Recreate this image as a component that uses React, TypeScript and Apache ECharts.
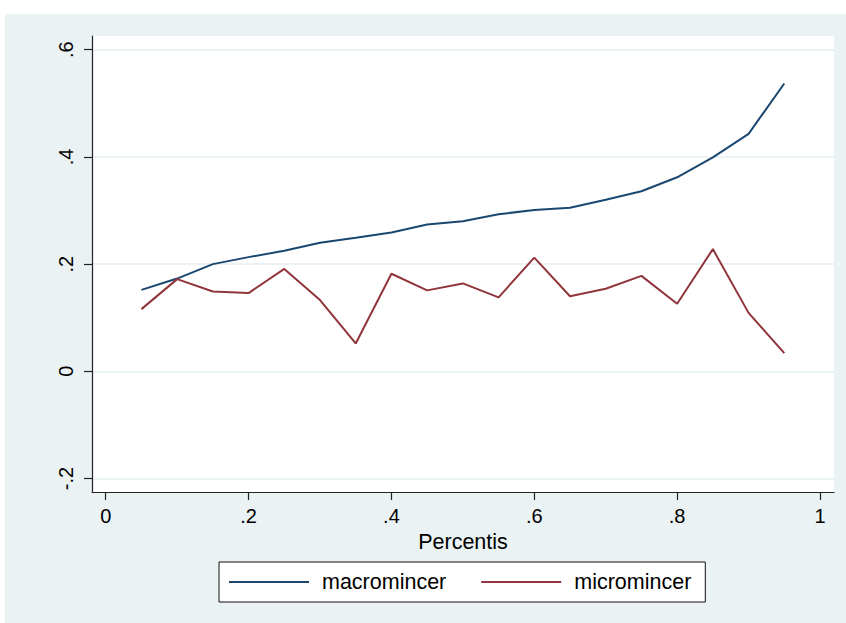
import React, { useEffect, useRef } from "react";
import * as echarts from "echarts";

const percentis = [0.05, 0.1, 0.15, 0.2, 0.25, 0.3, 0.35, 0.4, 0.45, 0.5, 0.55, 0.6, 0.65, 0.7, 0.75, 0.8, 0.85, 0.9, 0.95];
const macromincer = [0.152, 0.173, 0.2, 0.213, 0.225, 0.24, 0.249, 0.259, 0.274, 0.28, 0.293, 0.301, 0.305, 0.32, 0.336, 0.362, 0.399, 0.443, 0.537];
const micromincer = [0.116, 0.172, 0.149, 0.146, 0.191, 0.133, 0.052, 0.182, 0.151, 0.164, 0.138, 0.212, 0.14, 0.154, 0.178, 0.126, 0.228, 0.109, 0.034];
const xTicks = [0, 0.2, 0.4, 0.6, 0.8, 1];
const yTicks = [-0.2, 0, 0.2, 0.4, 0.6];

const FONT = "'Liberation Sans', Arial, sans-serif";
const BG = "#EAF2F3";

function fmt(v: number): string {
  const n = +Number(v).toFixed(2);
  if (n === 0) return "0";
  return String(n).replace(/^(-?)0\./, "$1.");
}

export default function App() {
  const ref = useRef<HTMLDivElement>(null);
  useEffect(() => {
    if (!ref.current) return;
    const chart = echarts.init(ref.current, undefined, { renderer: "svg" });
    chart.setOption({
      animation: false,
      backgroundColor: BG,
      textStyle: { fontFamily: FONT },
      graphic: {
        elements: [
          { type: "rect", shape: { x: 0, y: 0, width: 846, height: 14 }, style: { fill: "#fff" }, silent: true },
          { type: "rect", shape: { x: 0, y: 0, width: 5, height: 623 }, style: { fill: "#fff" }, silent: true },
        ],
      },
      grid: {
        left: 92,
        top: 36,
        width: 742,
        height: 456,
        show: true,
        backgroundColor: "#fff",
        borderWidth: 0,
      },
      xAxis: {
        type: "value",
        min: -0.0192,
        max: 1.0196,
        name: "Percentis",
        nameLocation: "middle",
        nameGap: 34,
        nameTextStyle: { fontSize: 21.5, color: "#000", fontFamily: FONT },
        axisLine: { show: true, onZero: false, lineStyle: { color: "#222", width: 1.2 } },
        axisTick: { show: true, length: 8, customValues: xTicks, lineStyle: { color: "#222", width: 1.2 } },
        axisLabel: { customValues: xTicks, formatter: fmt, fontSize: 20, color: "#000", margin: 14, fontFamily: FONT },
        splitLine: { show: false },
      },
      yAxis: {
        type: "value",
        min: -0.2252,
        max: 0.6256,
        axisLine: { show: true, onZero: false, lineStyle: { color: "#222", width: 1.2 } },
        axisTick: { show: true, length: 8, customValues: yTicks, lineStyle: { color: "#222", width: 1.2 } },
        axisLabel: {
          customValues: yTicks,
          formatter: fmt,
          rotate: 90,
          align: "center",
          verticalAlign: "bottom",
          fontSize: 20,
          color: "#000",
          margin: 16,
          fontFamily: FONT,
        },
        splitLine: { show: true, lineStyle: { color: BG, width: 2 } },
      },
      legend: {
        left: 219,
        top: 562,
        orient: "horizontal",
        backgroundColor: "#fff",
        borderColor: "#111",
        borderWidth: 1,
        borderRadius: 0,
        padding: [9, 14, 9, 10],
        itemGap: 35,
        itemWidth: 80,
        itemHeight: 2,
        icon: "rect",
        textStyle: { fontSize: 21.5, lineHeight: 22, color: "#000", fontFamily: FONT, padding: [0, 0, 0, 8] },
        data: ["macromincer", "micromincer"],
      },
      series: [
        {
          name: "macromincer",
          type: "line",
          symbol: "none",
          data: percentis.map((x, i) => [x, macromincer[i]]),
          lineStyle: { color: "#1A476F", width: 2 },
          itemStyle: { color: "#1A476F" },
        },
        {
          name: "micromincer",
          type: "line",
          symbol: "none",
          data: percentis.map((x, i) => [x, micromincer[i]]),
          lineStyle: { color: "#90353B", width: 2 },
          itemStyle: { color: "#90353B" },
        },
      ],
    });
    return () => chart.dispose();
  }, []);
  return <div ref={ref} style={{ position: "absolute", left: 0, top: 0, width: 846, height: 623 }} />;
}
